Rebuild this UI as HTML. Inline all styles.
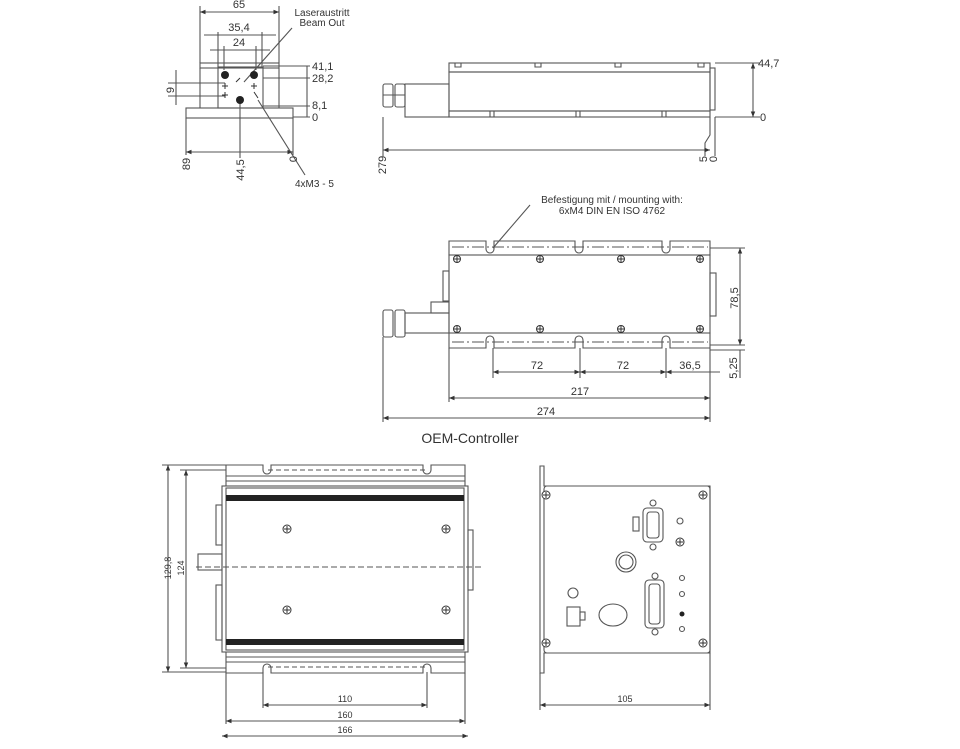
<!DOCTYPE html>
<html><head><meta charset="utf-8"><style>
html,body{margin:0;padding:0;background:#fff;width:960px;height:749px;overflow:hidden}
svg{display:block}
text{font-family:"Liberation Sans",sans-serif;fill:#333}
</style></head><body>
<svg width="960" height="749" viewBox="0 0 960 749" xmlns="http://www.w3.org/2000/svg">
<defs>
<marker id="a" viewBox="0 0 10 10" refX="10" refY="5" markerWidth="7" markerHeight="5" orient="auto-start-reverse"><path d="M0,1 L10,5 L0,9z" fill="#333"/></marker>
</defs>
<g stroke="#555" stroke-width="1.1" fill="none">
<line x1="200" y1="6" x2="200" y2="63"/><line x1="279" y1="6" x2="279" y2="63"/>
<line x1="200" y1="12" x2="279" y2="12" marker-start="url(#a)" marker-end="url(#a)"/>
<line x1="218" y1="32" x2="218" y2="67"/><line x1="262" y1="32" x2="262" y2="67"/>
<line x1="204" y1="35" x2="276" y2="35"/>
<line x1="224" y1="46" x2="224" y2="70"/><line x1="256" y1="46" x2="256" y2="70"/>
<line x1="210" y1="50" x2="270" y2="50"/>
<rect x="200" y="63" width="79" height="5"/>
<rect x="218" y="67" width="45" height="41"/>
<rect x="186" y="108" width="107" height="10"/>
<line x1="200" y1="68" x2="200" y2="108"/><line x1="279" y1="68" x2="279" y2="108"/>
<line x1="263" y1="66" x2="310" y2="66"/><line x1="263" y1="78" x2="310" y2="78"/>
<line x1="263" y1="106" x2="310" y2="106"/><line x1="293" y1="117" x2="310" y2="117"/>
<line x1="307" y1="66" x2="307" y2="117"/>
<line x1="168" y1="83" x2="225" y2="83"/><line x1="168" y1="96" x2="225" y2="96"/>
<line x1="176" y1="70" x2="176" y2="105"/>
<line x1="186" y1="118" x2="186" y2="155"/><line x1="240" y1="100" x2="240" y2="158"/><line x1="293" y1="118" x2="293" y2="155"/>
<line x1="186" y1="152" x2="293" y2="152" marker-start="url(#a)" marker-end="url(#a)"/>
<line x1="292" y1="28" x2="244" y2="82"/>
<line x1="258" y1="100" x2="305" y2="175"/>
<rect x="449" y="63" width="261" height="9"/>
<rect x="449" y="72" width="261" height="39"/>
<rect x="449" y="111" width="261" height="6"/>
<rect x="710" y="68" width="5" height="42"/>
<rect x="405" y="84" width="44" height="33"/>
<rect x="383" y="84" width="10" height="23" rx="2"/><rect x="395" y="84" width="10" height="23" rx="2"/>
<line x1="383" y1="95" x2="405" y2="95"/>
<path d="M455 63v4h6v-4M535 63v4h6v-4M615 63v4h6v-4M698 63v4h6v-4"/>
<path d="M490 111v6M494 111v6M576 111v6M580 111v6M662 111v6M666 111v6"/>
<line x1="715" y1="63" x2="760" y2="63"/><line x1="715" y1="117" x2="760" y2="117"/>
<line x1="753" y1="63" x2="753" y2="117" marker-start="url(#a)" marker-end="url(#a)"/>
<line x1="383" y1="117" x2="383" y2="156"/><line x1="715" y1="117" x2="715" y2="156"/>
<path d="M710 117v18l-5 8v13"/>
<line x1="383" y1="150" x2="710" y2="150" marker-start="url(#a)" marker-end="url(#a)"/>
<line x1="530" y1="205" x2="493" y2="248"/>
<path d="M449 241h37v8a4 4 0 0 0 8 0v-8h81v8a4 4 0 0 0 8 0v-8h79v8a4 4 0 0 0 8 0v-8h40v14h-261z"/>
<rect x="449" y="255" width="261" height="78"/>
<path d="M449 333h261v15h-40v-8a4 4 0 0 0 -8 0v8h-79v-8a4 4 0 0 0 -8 0v8h-81v-8a4 4 0 0 0 -8 0v8h-37z"/>
<line x1="452" y1="247" x2="708" y2="247" stroke-dasharray="12 3 2 3"/>
<line x1="452" y1="342" x2="708" y2="342" stroke-dasharray="12 3 2 3"/>
<rect x="443" y="271" width="6" height="30"/>
<rect x="431" y="302" width="18" height="11"/>
<rect x="405" y="313" width="44" height="20"/>
<rect x="383" y="310" width="10" height="27" rx="2"/><rect x="395" y="310" width="10" height="27" rx="2"/>
<rect x="710" y="273" width="6" height="43"/>
<line x1="710" y1="248" x2="745" y2="248"/><line x1="710" y1="345" x2="745" y2="345"/><line x1="710" y1="350" x2="745" y2="350"/>
<line x1="740" y1="248" x2="740" y2="345" marker-start="url(#a)" marker-end="url(#a)"/>
<line x1="740" y1="350" x2="740" y2="378"/>
<line x1="493" y1="348" x2="493" y2="378"/><line x1="580" y1="348" x2="580" y2="378"/><line x1="666" y1="348" x2="666" y2="378"/>
<line x1="493" y1="372" x2="580" y2="372" marker-start="url(#a)" marker-end="url(#a)"/>
<line x1="580" y1="372" x2="666" y2="372" marker-start="url(#a)" marker-end="url(#a)"/>
<line x1="666" y1="372" x2="720" y2="372" marker-start="url(#a)"/>
<line x1="449" y1="348" x2="449" y2="402"/><line x1="710" y1="348" x2="710" y2="422"/><line x1="383" y1="337" x2="383" y2="422"/>
<line x1="449" y1="398" x2="710" y2="398" marker-start="url(#a)" marker-end="url(#a)"/>
<line x1="383" y1="418" x2="710" y2="418" marker-start="url(#a)" marker-end="url(#a)"/>
<path d="M226 465h37v5a4 4 0 0 0 8 0v-5h152v5a4 4 0 0 0 8 0v-5h34v21h-239z"/>
<line x1="226" y1="476" x2="465" y2="476"/><line x1="226" y1="481" x2="465" y2="481"/>
<rect x="222" y="486" width="246" height="166"/>
<rect x="226" y="488" width="238" height="162"/>
<path d="M226 652h239v21h-34v-5a4 4 0 0 0 -8 0v5h-152v-5a4 4 0 0 0 -8 0v5h-37z"/>
<line x1="226" y1="657" x2="465" y2="657"/><line x1="226" y1="662" x2="465" y2="662"/>
<line x1="268" y1="470" x2="425" y2="470" stroke-dasharray="5 3"/>
<line x1="268" y1="667" x2="425" y2="667" stroke-dasharray="5 3"/>
<line x1="196" y1="567" x2="482" y2="567" stroke-dasharray="6 3"/>
<rect x="198" y="554" width="24" height="16"/>
<rect x="216" y="505" width="6" height="40"/><rect x="216" y="585" width="6" height="55"/>
<rect x="468" y="530" width="5" height="60"/>
<line x1="162" y1="465" x2="226" y2="465"/><line x1="162" y1="672" x2="226" y2="672"/>
<line x1="180" y1="470" x2="226" y2="470"/><line x1="180" y1="668" x2="226" y2="668"/>
<line x1="168" y1="465" x2="168" y2="672" marker-start="url(#a)" marker-end="url(#a)"/>
<line x1="186" y1="470" x2="186" y2="668" marker-start="url(#a)" marker-end="url(#a)"/>
<line x1="263" y1="672" x2="263" y2="708"/><line x1="427" y1="672" x2="427" y2="708"/>
<line x1="226" y1="673" x2="226" y2="724"/><line x1="465" y1="673" x2="465" y2="724"/>
<line x1="263" y1="705" x2="427" y2="705" marker-start="url(#a)" marker-end="url(#a)"/>
<line x1="226" y1="721" x2="465" y2="721" marker-start="url(#a)" marker-end="url(#a)"/>
<line x1="222" y1="736" x2="468" y2="736" marker-start="url(#a)" marker-end="url(#a)"/>
<path d="M540 466h4v20h166v167h-166v20h-4z"/>
<rect x="544" y="486" width="166" height="167" rx="3"/>
<line x1="540" y1="673" x2="540" y2="710"/><line x1="710" y1="653" x2="710" y2="710"/>
<line x1="540" y1="705" x2="710" y2="705" marker-start="url(#a)" marker-end="url(#a)"/>
<rect x="643" y="508" width="20" height="34" rx="4"/><rect x="647" y="512" width="12" height="26" rx="3"/>
<circle cx="653" cy="503" r="3"/><circle cx="653" cy="547" r="3"/>
<rect x="633" y="517" width="6" height="14"/>
<circle cx="680" cy="521" r="3"/>
<circle cx="626" cy="562" r="10"/><circle cx="626" cy="562" r="7"/>
<rect x="645" y="580" width="19" height="48" rx="4"/><rect x="649" y="584" width="11" height="40" rx="3"/>
<circle cx="655" cy="576" r="3"/><circle cx="655" cy="632" r="3"/>
<circle cx="682" cy="578" r="2.5"/><circle cx="682" cy="594" r="2.5"/><circle cx="682" cy="629" r="2.5"/>
<circle cx="573" cy="593" r="5"/>
<rect x="567" y="607" width="13" height="19"/><rect x="580" y="612" width="5" height="8"/>
<ellipse cx="613" cy="615" rx="14" ry="11"/>
</g>
<g fill="#222">
<circle cx="225" cy="75" r="4"/><circle cx="254" cy="75" r="4"/><circle cx="240" cy="100" r="4"/>
<rect x="226" y="495" width="238" height="6"/><rect x="226" y="639" width="238" height="6"/>
<circle cx="682" cy="614" r="2.5"/>
</g>
<g fill="#fff" stroke="#333" stroke-width="1">
<circle cx="457" cy="259" r="3.5"/><circle cx="540" cy="259" r="3.5"/><circle cx="621" cy="259" r="3.5"/><circle cx="700" cy="259" r="3.5"/>
<circle cx="457" cy="329" r="3.5"/><circle cx="540" cy="329" r="3.5"/><circle cx="621" cy="329" r="3.5"/><circle cx="700" cy="329" r="3.5"/>
<circle cx="287" cy="529" r="4"/><circle cx="446" cy="529" r="4"/><circle cx="287" cy="610" r="4"/><circle cx="446" cy="610" r="4"/>
<circle cx="546" cy="495" r="4"/><circle cx="703" cy="495" r="4"/><circle cx="546" cy="643" r="4"/><circle cx="703" cy="643" r="4"/>
<circle cx="680" cy="542" r="4"/>
</g>
<g stroke="#333" stroke-width="1">
<path d="M454 259h6M457 256v6M537 259h6M540 256v6M618 259h6M621 256v6M697 259h6M700 256v6M454 329h6M457 326v6M537 329h6M540 326v6M618 329h6M621 326v6M697 329h6M700 326v6"/>
<path d="M284 529h6M287 526v6M443 529h6M446 526v6M284 610h6M287 607v6M443 610h6M446 607v6"/>
<path d="M543 495h6M546 492v6M700 495h6M703 492v6M543 643h6M546 640v6M700 643h6M703 640v6M677 542h6M680 539v6"/>
<path d="M222 86h6M225 83v6M222 95h6M225 92v6M251 86h6M254 83v6M236 82l4 -4M254 92l4 6"/>
</g>
<g font-size="11">
<text x="239" y="8" text-anchor="middle">65</text>
<text x="239" y="31" text-anchor="middle">35,4</text>
<text x="239" y="46" text-anchor="middle">24</text>
<text x="322" y="16" text-anchor="middle" font-size="10">Laseraustritt</text>
<text x="322" y="26" text-anchor="middle" font-size="10">Beam Out</text>
<text x="312" y="70">41,1</text><text x="312" y="82">28,2</text><text x="312" y="109">8,1</text><text x="312" y="121">0</text>
<text transform="translate(174 90) rotate(-90)" text-anchor="middle">9</text>
<text transform="translate(190 164) rotate(-90)" text-anchor="middle">89</text>
<text transform="translate(244 170) rotate(-90)" text-anchor="middle">44,5</text>
<text transform="translate(297 159) rotate(-90)" text-anchor="middle">0</text>
<text x="295" y="187" font-size="10">4xM3 - 5</text>
<text x="758" y="67">44,7</text><text x="760" y="121">0</text>
<text transform="translate(386 165) rotate(-90)" text-anchor="middle">279</text>
<text transform="translate(707 159) rotate(-90)" text-anchor="middle">5</text>
<text transform="translate(717 159) rotate(-90)" text-anchor="middle">0</text>
<text x="612" y="203" text-anchor="middle" font-size="10">Befestigung mit / mounting with:</text>
<text x="612" y="214" text-anchor="middle" font-size="10">6xM4 DIN EN ISO 4762</text>
<text transform="translate(738 298) rotate(-90)" text-anchor="middle">78,5</text>
<text transform="translate(737 368) rotate(-90)" text-anchor="middle">5,25</text>
<text x="537" y="369" text-anchor="middle">72</text>
<text x="623" y="369" text-anchor="middle">72</text>
<text x="690" y="369" text-anchor="middle">36,5</text>
<text x="580" y="395" text-anchor="middle">217</text>
<text x="546" y="415" text-anchor="middle">274</text>
<text x="470" y="443" text-anchor="middle" font-size="14" fill="#222">OEM-Controller</text>
<text transform="translate(171 568) rotate(-90)" text-anchor="middle" font-size="9">129,8</text>
<text transform="translate(184 568) rotate(-90)" text-anchor="middle" font-size="9">124</text>
<text x="345" y="702" text-anchor="middle" font-size="9">110</text>
<text x="345" y="718" text-anchor="middle" font-size="9">160</text>
<text x="345" y="733" text-anchor="middle" font-size="9">166</text>
<text x="625" y="702" text-anchor="middle" font-size="9">105</text>
</g>
</svg>
</body></html>
